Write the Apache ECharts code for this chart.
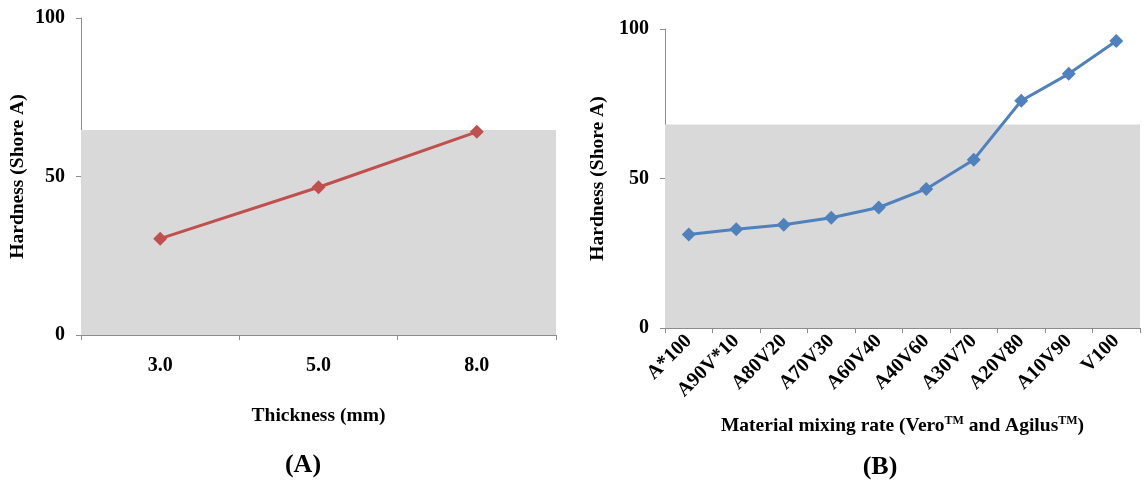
<!DOCTYPE html>
<html>
<head>
<meta charset="utf-8">
<script src="https://cdn.jsdelivr.net/npm/echarts@6/dist/echarts.min.js"></script>
<style>
  html, body { margin: 0; padding: 0; background: #fff; }
  #chart { width: 1144px; height: 481px; }
</style>
</head>
<body>
<div id="chart"></div>
<script>
// (A) hardness vs thickness
const thicknessLabels = ['3.0', '5.0', '8.0']
const thicknessHardness = [30.4, 46.6, 64.1]
const shadeTopA = 64.7

// (B) hardness vs material mixing rate
const mixLabels = ['A*100', 'A90V*10', 'A80V20', 'A70V30', 'A60V40', 'A40V60', 'A30V70', 'A20V80', 'A10V90', 'V100']
const mixHardness = [31.3, 33.0, 34.5, 36.9, 40.3, 46.5, 56.3, 76.0, 85.0, 96.0]
const shadeTopB = 68.1

const yTicks = [0, 50, 100]

const font = '"Liberation Serif", "Times New Roman", serif'
const axisGray = '#8c8c8c'

const chart = echarts.init(document.getElementById('chart'))

function yAxisOf(gridIndex, nameGap) {
  return {
    gridIndex,
    type: 'value',
    min: yTicks[0],
    max: yTicks[yTicks.length - 1],
    interval: yTicks[1] - yTicks[0],
    name: 'Hardness (Shore A)',
    nameLocation: 'middle',
    nameRotate: 90,
    nameGap,
    nameTextStyle: { fontFamily: font, fontWeight: 'bold', fontSize: 19.5, color: '#000' },
    axisLine: { show: true, lineStyle: { color: axisGray, width: 1 } },
    axisTick: { show: true, length: 5, lineStyle: { color: axisGray } },
    axisLabel: { margin: 16, fontFamily: font, fontWeight: 'bold', fontSize: 20, color: '#000' },
    splitLine: { show: false },
  }
}

const labelStyle = { fontFamily: font, fontWeight: 'bold', fontSize: 20, color: '#000' }

chart.setOption({
  animation: false,
  grid: [
    { left: 81, right: 588, top: 18, bottom: 146 },
    { left: 665, right: 4, top: 29, bottom: 153 },
  ],
  title: [
    { text: '(A)', left: 298, top: 447, textAlign: 'center',
      textStyle: { fontFamily: font, fontWeight: 'bold', fontSize: 26, color: '#000' } },
    { text: '(B)', left: 875, top: 449, textAlign: 'center',
      textStyle: { fontFamily: font, fontWeight: 'bold', fontSize: 26, color: '#000' } },
  ],
  xAxis: [
    {
      gridIndex: 0,
      type: 'category',
      data: thicknessLabels,
      boundaryGap: true,
      name: 'Thickness (mm)',
      nameLocation: 'middle',
      nameGap: 71,
      nameTextStyle: { fontFamily: font, fontWeight: 'bold', fontSize: 19.5, color: '#000' },
      axisLine: { lineStyle: { color: axisGray, width: 1 } },
      axisTick: { show: true, length: 5, alignWithLabel: false, lineStyle: { color: axisGray } },
      axisLabel: { ...labelStyle, margin: 21 },
    },
    {
      gridIndex: 1,
      type: 'category',
      data: mixLabels,
      boundaryGap: true,
      name: 'Material mixing rate (Vero{sup|TM} and Agilus{sup|TM})',
      nameLocation: 'middle',
      nameGap: 87,
      nameTextStyle: {
        fontFamily: font, fontWeight: 'bold', fontSize: 19.5, color: '#000',
        rich: {
          sup: { fontFamily: font, fontWeight: 'bold', fontSize: 12, color: '#000', verticalAlign: 'top', padding: [0, 0, 9, 0] },
        },
      },
      axisLine: { lineStyle: { color: axisGray, width: 1 } },
      axisTick: { show: true, length: 5, alignWithLabel: false, lineStyle: { color: axisGray } },
      axisLabel: { ...labelStyle, rotate: 45, margin: 10, interval: 0 },
    },
  ],
  yAxis: [yAxisOf(0, 53), yAxisOf(1, 57)],
  series: [
    {
      type: 'line',
      xAxisIndex: 0,
      yAxisIndex: 0,
      data: thicknessHardness,
      symbol: 'diamond',
      symbolSize: 14,
      lineStyle: { color: '#c0504d', width: 3 },
      itemStyle: { color: '#c0504d' },
      markArea: {
        silent: true,
        itemStyle: { color: '#d9d9d9' },
        data: [[{ yAxis: 0 }, { yAxis: shadeTopA }]],
      },
      z: 3,
    },
    {
      type: 'line',
      xAxisIndex: 1,
      yAxisIndex: 1,
      data: mixHardness,
      symbol: 'diamond',
      symbolSize: 14,
      lineStyle: { color: '#4f81bd', width: 3 },
      itemStyle: { color: '#4f81bd' },
      markArea: {
        silent: true,
        itemStyle: { color: '#d9d9d9' },
        data: [[{ yAxis: 0 }, { yAxis: shadeTopB }]],
      },
      z: 3,
    },
  ],
})
</script>
</body>
</html>
